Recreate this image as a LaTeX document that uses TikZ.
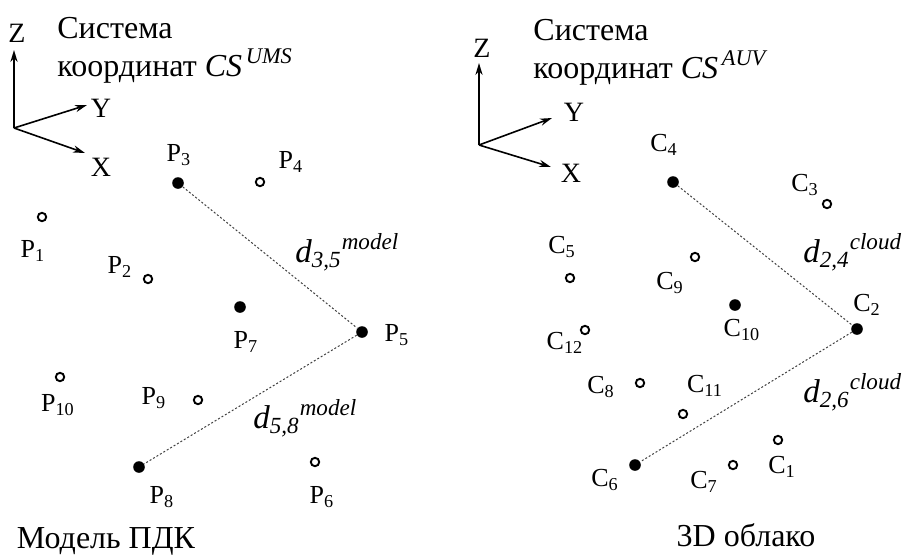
\documentclass[tikz,border=0pt]{standalone}
\usepackage{fontspec}
\setmainfont{Liberation Serif}
\newfontfamily\tnr{Liberation Serif}
\usetikzlibrary{arrows.meta,calc}
\tikzset{
  full/.style={circle,fill=black,inner sep=0pt,minimum size=5.8pt},
  hollow/.style={circle,draw=black,line width=0.95pt,fill=white,inner sep=0pt,minimum size=4.2pt},
  lab/.style={inner sep=0pt,font=\tnr\fontsize{13}{15}\selectfont},
  axlab/.style={inner sep=0pt,font=\tnr\fontsize{14}{16}\selectfont},
  dist/.style={line width=0.5pt,dash pattern=on 1pt off 1pt,black!75},
  axis/.style={line width=0.8pt,-{Stealth[length=6pt,width=3.6pt]}},
  head/.style={inner sep=0pt,align=left,anchor=base west,font=\tnr\fontsize{16}{19}\selectfont},
  dlab/.style={inner sep=0pt,anchor=base west,font=\tnr\fontsize{16.5}{18}\selectfont\itshape}
}
\begin{document}
\begin{tikzpicture}[x=0.5pt,y=-0.5pt]
\useasboundingbox (0,0) rectangle (915,558);
% axes
\coordinate (O1) at (14,128);
\coordinate (O2) at (479,145);
\foreach \o/\zx/\zy/\yx/\yy/\xx/\xy in {O1/14/50/87/105/85/153,O2/479/63/552/118/551/167}{
  \draw[axis] (\o) -- (\zx,\zy);
  \draw[axis] (\o) -- (\yx,\yy);
  \draw[axis] (\o) -- (\xx,\xy);
}
\node[axlab] (Z1) at (17,33) {Z};
\node[axlab] (Y1) at (101,108) {Y};
\node[axlab] (X1) at (101,167) {X};
\node[axlab] (Z2) at (482,48) {Z};
\node[axlab] (Y2) at (574,112) {Y};
\node[axlab] (X2) at (571,173) {X};
\node[head] (cs1) at (57,76) {Система\\координат \textit{CS}\textsuperscript{\,\textit{UMS}}};
\node[head] (cs2) at (533,78) {Система\\координат \textit{CS}\textsuperscript{\,\textit{AUV}}};
% model points
\foreach \n/\x/\y/\s in {P1/42/217/hollow,P2/148/279/hollow,P3/178/183/full,P4/260/182/hollow,
  P5/362/332/full,P6/315/462/hollow,P7/240/307/full,P8/139/467/full,P9/198/400/hollow,P10/60/377/hollow}
  \node[\s] (\n) at (\x,\y) {};
\foreach \i/\x/\y in {1/33/251,2/120/267,3/179/155,4/291/162,5/397/335,6/322/497,7/246/342,8/162/497,9/154/398,10/58/405}
  \node[lab] (lP\i) at (\x,\y) {P\textsubscript{\i}};
% cloud points
\foreach \n/\x/\y/\s in {C1/778/440/hollow,C2/857/329/full,C3/827/204/hollow,C4/673/182/full,C5/570/278/hollow,C6/635/465/full,
  C7/733/465/hollow,C8/640/383/hollow,C9/695/257/hollow,C10/735/305/full,C11/683/414/hollow,C12/585/330/hollow}
  \node[\s] (\n) at (\x,\y) {};
\foreach \i/\x/\y in {1/782/467,2/867/305,3/805/185,4/664/145,5/562/247,6/605/480,7/704/482,8/601/387,9/670/283,10/742/330,11/705/386,12/565/343}
  \node[lab] (lC\i) at (\x,\y) {C\textsubscript{\i}};
% distances
\draw[dist] (P3) -- (P5) -- (P8);
\draw[dist] (C4) -- (C2) -- (C6);
\node[dlab] (d35) at (295,262) {d\textsubscript{3,5}\textsuperscript{model}};
\node[dlab] (d58) at (253,428) {d\textsubscript{5,8}\textsuperscript{model}};
\node[dlab] (d24) at (803,262) {d\textsubscript{2,4}\textsuperscript{cloud}};
\node[dlab] (d26) at (803,402) {d\textsubscript{2,6}\textsuperscript{cloud}};
% captions
\node[inner sep=0pt,font=\tnr\fontsize{16}{18}\selectfont] (mod) at (106,541) {Модель ПДК};
\node[inner sep=0pt,font=\tnr\fontsize{16}{18}\selectfont] (cld) at (746,535) {3D облако};
\end{tikzpicture}
\end{document}
